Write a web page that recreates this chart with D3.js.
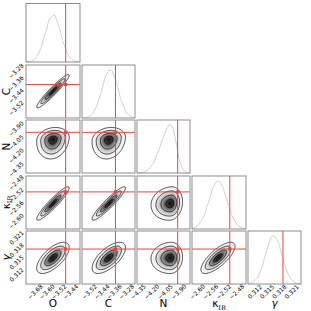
<!DOCTYPE html>
<html><head><meta charset="utf-8">
<script src="https://cdn.jsdelivr.net/npm/d3@7"></script>
<style>body{margin:0;background:#fff} svg{display:block}</style>
</head><body><svg id="c" width="311" height="311"></svg>
<script>
// ---- data ----
const params = ["O","C","N","κ","γ"];
const domains = [[-3.7375,-3.372],[-3.5633,-3.2205],[-4.356,-3.767],[-2.6144,-2.4495],[0.31054,0.32344]];
const tickVals = [[-3.68,-3.60,-3.52,-3.44],[-3.52,-3.44,-3.36,-3.28],[-4.35,-4.20,-4.05,-3.90],[-2.60,-2.56,-2.52,-2.48],[0.312,0.315,0.318,0.321]];
const tickFmt = [".2f",".2f",".2f",".2f",".3f"];
const truths = [-3.469,-3.347,-3.904,-2.499,0.31905];
const modes = [-3.555,-3.39,-3.98,-2.535,0.3169];
const sigLo = [0.055,0.054,0.11,0.026,0.0019];
const sigHi = [0.055,0.054,0.065,0.026,0.0019];
const corrO = [1,0.95,0.15,0.93,0.65];
const corrC = [0.95,1,0.15,0.93,0.65];
const corrN = [0.15,0.15,1,0.1,0.05];
const corrK = [0.93,0.93,0.1,1,0.75];
const corrG = [0.65,0.65,0.05,0.75,1];
const corr = [corrO,corrC,corrN,corrK,corrG];
const histO = [0.006,0.015,0.037,0.078,0.17,0.29,0.50,0.67,0.89,0.97,1.0,0.86,0.70,0.47,0.31,0.16,0.085,0.033,0.014,0.004];
const histC = [0.005,0.012,0.03,0.062,0.14,0.24,0.41,0.59,0.80,0.93,1.0,0.96,0.81,0.64,0.42,0.28,0.14,0.077,0.03,0.012];
const histN = [0.004,0.012,0.022,0.048,0.085,0.155,0.24,0.38,0.51,0.69,0.82,0.95,1.0,0.93,0.71,0.40,0.19,0.07,0.018,0.005];
const histK = [0.018,0.046,0.09,0.175,0.28,0.46,0.62,0.82,0.93,1.0,0.96,0.86,0.67,0.51,0.32,0.21,0.105,0.058,0.024,0.011];
const histG = [0.012,0.03,0.07,0.13,0.25,0.39,0.60,0.77,0.94,1.0,0.96,0.86,0.66,0.48,0.29,0.175,0.088,0.042,0.016,0.008];
const hists = [histO,histC,histN,histK,histG];
const contourSigmas = [0.5,1,1.5,2];

// ---- layout ----
const colX=[26,82,137,192,248], colW=[54,53,53,54,53];
const rowY=[3.5,65,120,176,231], rowH=[58.5,53,53,53,53];
const histTop=[1.245,1.1,1.1,1.1,1.1];
const RED="#f04040";
const svg=d3.select("#c");
const n=params.length;
const xs=d3.range(n).map(j=>d3.scaleLinear(domains[j],[colX[j],colX[j]+colW[j]]));
const ys=d3.range(n).map(i=>d3.scaleLinear(domains[i],[rowY[i]+rowH[i],rowY[i]]));

function dens(i,j,vx,vy){
  const zx=(vx-modes[j])/(vx<modes[j]?sigLo[j]:sigHi[j]);
  const zy=(vy-modes[i])/(vy<modes[i]?sigLo[i]:sigHi[i]);
  const r=corr[i][j];
  const Q=(zx*zx-2*r*zx*zy+zy*zy)/(1-r*r);
  return Math.exp(-0.5*Q);
}
const defs=svg.append("defs");
const NG=70;
for(let i=0;i<n;i++){
  for(let j=0;j<=i;j++){
    const x0=colX[j],w=colW[j],y0=rowY[i],h=rowH[i];
    const cid=`clip${i}${j}`;
    defs.append("clipPath").attr("id",cid).append("rect").attr("x",x0).attr("y",y0).attr("width",w).attr("height",h);
    const g=svg.append("g").attr("clip-path",`url(#${cid})`);
    if(i===j){
      const hv=hists[j];
      const nb=hv.length;
      const bw=(domains[j][1]-domains[j][0])/nb;
      const yh=d3.scaleLinear([0,d3.max(hv)*histTop[i]],[y0+h,y0]);
      const pts=[[domains[j][0],0]];
      hv.forEach((v,k)=>pts.push([domains[j][0]+(k+0.5)*bw,v]));
      pts.push([domains[j][1],0]);
      g.append("path").attr("d",d3.line().x(d=>xs[j](d[0])).y(d=>yh(d[1])).curve(d3.curveMonotoneX)(pts))
        .attr("fill","none").attr("stroke","#9a9a9a").attr("stroke-width",0.6).attr("stroke-dasharray","1.6,0.5");
      g.append("line").attr("x1",xs[j](truths[j])).attr("x2",xs[j](truths[j])).attr("y1",y0).attr("y2",y0+h)
        .attr("stroke",RED).attr("stroke-width",1);
    } else {
      const vals=new Array(NG*NG);
      for(let b=0;b<NG;b++){
        const vy=domains[i][1]-(b+0.5)/NG*(domains[i][1]-domains[i][0]);
        for(let a=0;a<NG;a++){
          const vx=domains[j][0]+(a+0.5)/NG*(domains[j][1]-domains[j][0]);
          vals[b*NG+a]=dens(i,j,vx,vy);
        }
      }
      const proj=d3.geoTransform({point:function(px,py){this.stream.point(x0+px/NG*w,y0+py/NG*h);}});
      const path=d3.geoPath(proj);
      const lowest=Math.exp(-0.5*4);
      const bands=d3.range(lowest,0.999,0.03);
      const cs=d3.contours().size([NG,NG]).thresholds(bands)(vals);
      cs.forEach(c=>{
        const f=Math.min(1,c.value+0.015);
        const gl=Math.round(255*(1-0.92*f*f));
        g.append("path").attr("d",path(c)).attr("fill",`rgb(${gl},${gl},${gl})`).attr("stroke","none");
      });
      const lv=contourSigmas.map(s=>Math.exp(-0.5*s*s)).sort((a,b)=>a-b);
      const cl=d3.contours().size([NG,NG]).thresholds(lv)(vals);
      cl.forEach(c=>{
        g.append("path").attr("d",path(c)).attr("fill","none").attr("stroke","#000").attr("stroke-width",0.7);
      });
      const tx=xs[j](truths[j]),ty=ys[i](truths[i]);
      g.append("line").attr("x1",tx).attr("x2",tx).attr("y1",y0).attr("y2",y0+h).attr("stroke",RED).attr("stroke-width",1);
      g.append("line").attr("x1",x0).attr("x2",x0+w).attr("y1",ty).attr("y2",ty).attr("stroke",RED).attr("stroke-width",1);
      g.append("rect").attr("x",tx-1.6).attr("y",ty-1.6).attr("width",3.2).attr("height",3.2).attr("fill",RED);
    }
    svg.append("rect").attr("x",x0).attr("y",y0).attr("width",w).attr("height",h)
      .attr("fill","none").attr("stroke","#808080").attr("stroke-width",0.9);
  }
}

// ---- axes ----
const FONT="DejaVu Sans";
for(let j=0;j<n;j++){
  const ax=svg.append("g").attr("transform",`translate(0,${rowY[n-1]+rowH[n-1]})`)
    .call(d3.axisBottom(xs[j]).tickValues(tickVals[j]).tickFormat(d3.format(tickFmt[j])).tickSize(0).tickPadding(0));
  ax.select(".domain").remove();
  ax.attr("font-family",FONT).attr("font-size",6);
  ax.selectAll("text").attr("y",null).attr("dy",null).attr("fill","#000")
    .attr("text-anchor","middle").attr("dominant-baseline","central")
    .attr("transform","translate(0,7.5) rotate(-45)");
}
for(let i=1;i<n;i++){
  const ax=svg.append("g").attr("transform",`translate(${colX[0]},0)`)
    .call(d3.axisLeft(ys[i]).tickValues(tickVals[i]).tickFormat(d3.format(tickFmt[i])).tickSize(0).tickPadding(0));
  ax.select(".domain").remove();
  ax.attr("font-family",FONT).attr("font-size",6);
  ax.selectAll("text").each(function(){
    const L=this.getComputedTextLength();
    const hw=L*0.7071/2+1.5;
    d3.select(this).attr("x",null).attr("dy",null).attr("fill","#000")
      .attr("text-anchor","middle").attr("dominant-baseline","central")
      .attr("transform",`translate(${-(2+hw)},-4) rotate(-45)`);
  });
}
// ---- axis labels ----
function label(sel,k){
  if(k===3){
    sel.append("tspan").text("κ");
    sel.append("tspan").text("IR").attr("font-size",6.5).attr("dy",2.5).attr("font-family","DejaVu Serif");
  } else if(k===4){
    sel.text("γ").attr("font-style","italic");
  } else sel.text(params[k]);
}
for(let j=0;j<n;j++){
  const t=svg.append("text").attr("x",colX[j]+colW[j]/2).attr("y",307)
    .attr("text-anchor","middle").attr("font-family",FONT).attr("font-size",10.5).attr("fill","#000");
  label(t,j);
}
for(let i=1;i<n;i++){
  const t=svg.append("text").attr("transform",`translate(9.5,${rowY[i]+rowH[i]/2}) rotate(-90)`)
    .attr("text-anchor","middle").attr("font-family",FONT).attr("font-size",10.5).attr("fill","#000");
  label(t,i);
}
</script></body></html>
